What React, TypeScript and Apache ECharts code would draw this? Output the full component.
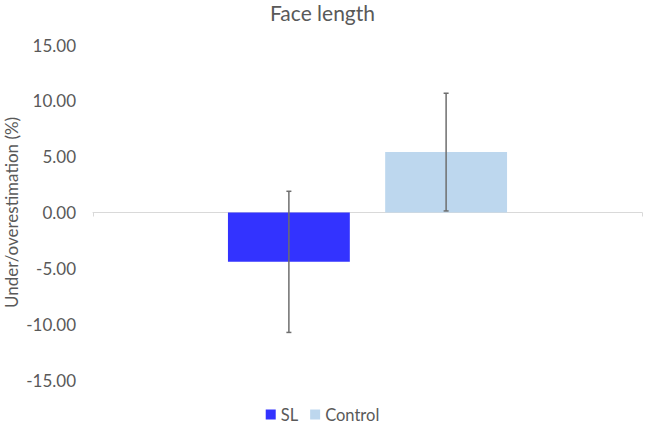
import React, { useEffect, useRef } from "react";
import * as echarts from "echarts";

const categories = [""];
const seriesNames = ["SL", "Control"];
const means = [-4.42, 5.41];
const errors = [6.32, 5.27];
const colors = ["#3333FF", "#BDD7EE"];
const yTicks = { min: -15, max: 15, interval: 5 };

const BAR_FRAC = 0.222;
const GAP_FRAC = 0.29;

export default function App() {
  const ref = useRef<HTMLDivElement>(null);
  useEffect(() => {
    const chart = echarts.init(ref.current!, null, { renderer: "svg" });
    const font = "Lato, 'Open Sans', sans-serif";
    const barSeries = seriesNames.map((name, i) => ({
      name,
      type: "bar",
      data: [means[i]],
      itemStyle: { color: colors[i] },
      barWidth: (BAR_FRAC * 100).toFixed(1) + "%",
      barGap: (GAP_FRAC * 100).toFixed(0) + "%",
    }));
    const errSeries = seriesNames.map((name, i) => ({
      type: "custom",
      name: name + "_err",
      z: 10,
      data: [[0, means[i] - errors[i], means[i] + errors[i]]],
      renderItem: (params: any, api: any) => {
        const band = api.size([1, 0])[0];
        const bw = band * BAR_FRAC;
        const off = ((bw * (1 + GAP_FRAC)) / 2) * (i === 0 ? -1 : 1);
        const lo = api.coord([api.value(0), api.value(1)]);
        const hi = api.coord([api.value(0), api.value(2)]);
        const x = lo[0] + off;
        const cap = 2.5;
        const style = { stroke: "#6e6e6e", lineWidth: 1.5 };
        return {
          type: "group",
          children: [
            { type: "line", shape: { x1: x, y1: lo[1], x2: x, y2: hi[1] }, style },
            { type: "line", shape: { x1: x - cap, y1: lo[1], x2: x + cap, y2: lo[1] }, style },
            { type: "line", shape: { x1: x - cap, y1: hi[1], x2: x + cap, y2: hi[1] }, style },
          ],
        };
      },
    }));
    chart.setOption({
      animation: false,
      title: {
        text: "Face length",
        left: "center",
        top: -3,
        textStyle: { fontFamily: font, fontSize: 21, fontWeight: "normal", color: "#595959" },
      },
      legend: {
        data: seriesNames,
        bottom: -4,
        left: "center",
        icon: "rect",
        itemWidth: 10,
        itemHeight: 10,
        itemGap: 12,
        textStyle: { fontFamily: font, fontSize: 16.5, color: "#595959" },
      },
      grid: { left: 93, right: 3, top: 45, bottom: 44, containLabel: false, outerBoundsMode: "none" },
      xAxis: {
        type: "category",
        data: categories,
        axisLine: { onZero: true, lineStyle: { color: "#d9d9d9", width: 1 } },
        axisTick: { show: true, length: 4, lineStyle: { color: "#d9d9d9" } },
        axisLabel: { show: false },
      },
      yAxis: {
        type: "value",
        min: yTicks.min,
        max: yTicks.max,
        interval: yTicks.interval,
        name: "Under/overestimation (%)",
        nameLocation: "middle",
        nameGap: 73,
        nameMoveOverlap: false,
        nameTextStyle: { fontFamily: font, fontSize: 17, color: "#595959" },
        axisLine: { show: false },
        axisTick: { show: false },
        splitLine: { show: false },
        axisLabel: {
          fontFamily: font,
          fontSize: 17,
          color: "#595959",
          margin: 17,
          formatter: (v: number) => v.toFixed(2),
        },
      },
      series: [...barSeries, ...errSeries],
    });
    return () => chart.dispose();
  }, []);
  return (
    <div
      ref={ref}
      style={{ position: "absolute", left: 0, top: 0, width: 645, height: 424 }}
    />
  );
}
